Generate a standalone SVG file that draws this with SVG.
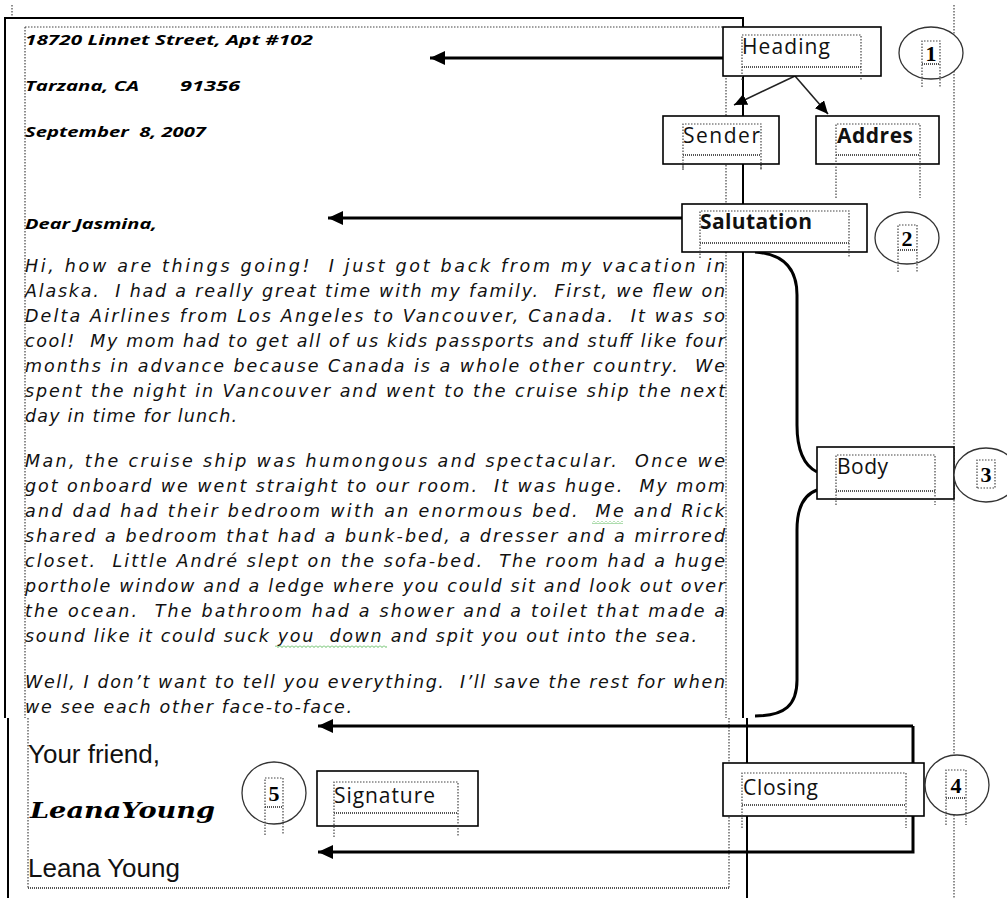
<svg xmlns="http://www.w3.org/2000/svg" width="1007" height="898" viewBox="0 0 1007 898">
<style>
.dot{fill:none;stroke:#444;stroke-width:1.2;stroke-dasharray:1.5 1.5}
.wavy{fill:none;stroke:#555;stroke-width:2;stroke-dasharray:1 1}
.edge{fill:none;stroke:#000;stroke-width:2}
.box{fill:#fff;stroke:#000;stroke-width:1.6}
.circ{fill:#fff;stroke:#333;stroke-width:1.3}
.lbl{font-family:"Open Sans","Liberation Sans",sans-serif;font-size:21px;fill:#111}
.lblb{font-family:"Open Sans","Liberation Sans",sans-serif;font-size:21px;font-weight:bold;fill:#111}
.num{font-family:"Liberation Serif","DejaVu Serif",serif;font-size:22px;font-weight:bold;fill:#000;text-anchor:middle}
.hd{font-family:"Open Sans","Liberation Sans",sans-serif;font-size:15px;font-weight:bold;font-style:italic;fill:#000;white-space:pre}
.bd{font-family:"DejaVu Sans","Liberation Sans",sans-serif;font-size:17.5px;font-style:italic;fill:#111;white-space:pre}
.cl{font-family:"Liberation Sans",Arial,sans-serif;font-size:25px;fill:#111}
.sig{font-family:"DejaVu Serif","Liberation Serif",serif;font-size:22px;font-weight:bold;font-style:italic;fill:#000}
.thick{fill:none;stroke:#000;stroke-width:3}
.thin{fill:none;stroke:#222;stroke-width:1.6}
</style>
<defs>
<marker id="ahBig" markerUnits="userSpaceOnUse" markerWidth="16" markerHeight="14" refX="15" refY="7" orient="auto">
<path d="M0,0 L15,7 L0,14 Z" fill="#000"/>
</marker>
<marker id="ahSmall" markerUnits="userSpaceOnUse" markerWidth="14" markerHeight="12" refX="13" refY="6" orient="auto">
<path d="M0,0 L13,6 L0,12 Z" fill="#000"/>
</marker>
<pattern id="squig" patternUnits="userSpaceOnUse" width="4" height="3">
<path d="M0,0.5 L2,2.5 L4,0.5" fill="none" stroke="#3a3" stroke-width="0.8"/>
</pattern>
</defs>

<g id="page">
<line class="dot" x1="12" y1="5" x2="12" y2="17"/>
<line class="dot" x1="954" y1="5" x2="954" y2="898"/>
<line class="dot" x1="25" y1="27" x2="723" y2="27"/>
<line class="dot" x1="25" y1="27" x2="25" y2="718"/>
<line class="dot" x1="726" y1="27" x2="726" y2="718"/>
<line class="dot" x1="28" y1="718" x2="28" y2="888"/>
<line class="dot" x1="729" y1="718" x2="729" y2="888"/>
<line class="wavy" x1="28" y1="888" x2="729" y2="888"/>
<path class="edge" d="M5,718 V18 H743 V718"/>
<line class="edge" x1="8" y1="718" x2="8" y2="898"/>
<line class="edge" x1="747" y1="718" x2="747" y2="898"/>
</g>

<g id="letter">
<text class="hd" x="25" y="45" textLength="288" lengthAdjust="spacingAndGlyphs">18720 Linnet Street, Apt #102</text>
<text class="hd" x="25" y="91" textLength="114" lengthAdjust="spacingAndGlyphs">Tarzana, CA</text>
<text class="hd" x="180" y="91" textLength="60" lengthAdjust="spacingAndGlyphs">91356</text>
<text class="hd" x="25" y="137" textLength="181" lengthAdjust="spacingAndGlyphs">September  8, 2007</text>
<text class="hd" x="25" y="229" textLength="132" lengthAdjust="spacingAndGlyphs">Dear Jasmina,</text>

<text class="bd" x="25" y="272" textLength="700" lengthAdjust="spacing">Hi, how are things going!  I just got back from my vacation in</text>
<text class="bd" x="25" y="297" textLength="700" lengthAdjust="spacing">Alaska.  I had a really great time with my family.  First, we flew on</text>
<text class="bd" x="25" y="322" textLength="700" lengthAdjust="spacing">Delta Airlines from Los Angeles to Vancouver, Canada.  It was so</text>
<text class="bd" x="25" y="347" textLength="700" lengthAdjust="spacing">cool!  My mom had to get all of us kids passports and stuff like four</text>
<text class="bd" x="25" y="372" textLength="700" lengthAdjust="spacing">months in advance because Canada is a whole other country.  We</text>
<text class="bd" x="25" y="397" textLength="700" lengthAdjust="spacing">spent the night in Vancouver and went to the cruise ship the next</text>
<text class="bd" x="25" y="422" textLength="212" lengthAdjust="spacing">day in time for lunch.</text>

<text class="bd" x="25" y="467" textLength="700" lengthAdjust="spacing">Man, the cruise ship was humongous and spectacular.  Once we</text>
<text class="bd" x="25" y="492" textLength="700" lengthAdjust="spacing">got onboard we went straight to our room.  It was huge.  My mom</text>
<text class="bd" x="25" y="517" textLength="700" lengthAdjust="spacing">and dad had their bedroom with an enormous bed.  Me and Rick</text>
<text class="bd" x="25" y="542" textLength="700" lengthAdjust="spacing">shared a bedroom that had a bunk-bed, a dresser and a mirrored</text>
<text class="bd" x="25" y="567" textLength="700" lengthAdjust="spacing">closet.  Little André slept on the sofa-bed.  The room had a huge</text>
<text class="bd" x="25" y="592" textLength="700" lengthAdjust="spacing">porthole window and a ledge where you could sit and look out over</text>
<text class="bd" x="25" y="617" textLength="700" lengthAdjust="spacing">the ocean.  The bathroom had a shower and a toilet that made a</text>
<text class="bd" x="25" y="642" textLength="672" lengthAdjust="spacing">sound like it could suck you  down and spit you out into the sea.</text>

<text class="bd" x="25" y="688" textLength="700" lengthAdjust="spacing">Well, I don’t want to tell you everything.  I’ll save the rest for when</text>
<text class="bd" x="25" y="713" textLength="327" lengthAdjust="spacing">we see each other face-to-face.</text>

<rect x="592" y="521" width="31" height="3" fill="url(#squig)"/>
<rect x="275" y="645" width="112" height="3" fill="url(#squig)"/>

<text class="cl" x="28" y="763" textLength="132" lengthAdjust="spacingAndGlyphs">Your friend,</text>
<text class="sig" x="30" y="818" textLength="185" lengthAdjust="spacingAndGlyphs">LeanaYoung</text>
<text class="cl" x="28" y="877" textLength="152" lengthAdjust="spacingAndGlyphs">Leana Young</text>
</g>

<g id="connectors">
<line class="thick" x1="723" y1="58" x2="430" y2="58" marker-end="url(#ahBig)"/>
<line class="thin" x1="795" y1="76" x2="734" y2="105" marker-end="url(#ahSmall)"/>
<line class="thin" x1="795" y1="76" x2="828" y2="114" marker-end="url(#ahSmall)"/>
<line class="thick" x1="682" y1="218" x2="328" y2="218" marker-end="url(#ahBig)"/>
<path class="thick" d="M755,252 C785,254 797,270 797,295 L797,425 C797,450 803,465 817,472"/>
<path class="thick" d="M817,490 C803,495 797,510 797,530 L797,680 C797,705 785,716 755,716"/>
<path class="thick" d="M913,726 H318" marker-end="url(#ahBig)"/>
<path class="thick" d="M913,726 V852 H318" marker-end="url(#ahBig)"/>
</g>

<g id="heading">
<rect class="box" x="723" y="27" width="158" height="49"/>
<path class="dot" d="M742,80 V35 H861 V80"/>
<line class="wavy" x1="742" y1="67" x2="861" y2="67"/>
<text class="lbl" x="742" y="54" textLength="88" lengthAdjust="spacing">Heading</text>
</g>
<g id="circle1">
<ellipse class="circ" cx="931" cy="53" rx="32" ry="26"/>
<path class="dot" d="M922,87 V41 H940 V87"/>
<line class="wavy" x1="922" y1="64" x2="940" y2="64"/>
<text class="num" x="931" y="61">1</text>
</g>
<g id="sender">
<line class="dot" x1="683" y1="155" x2="683" y2="170"/>
<line class="dot" x1="761" y1="155" x2="761" y2="170"/>
<rect class="box" x="663" y="116" width="116" height="48"/>
<path class="dot" d="M683,170 V124 H761 V170"/>
<line class="wavy" x1="683" y1="155" x2="761" y2="155"/>
<text class="lbl" x="683" y="143" textLength="77" lengthAdjust="spacing">Sender</text>
</g>
<g id="addres">
<rect class="box" x="816" y="116" width="123" height="48"/>
<path class="dot" d="M836,198 V124 H920 V198"/>
<line class="wavy" x1="836" y1="155" x2="920" y2="155"/>
<text class="lblb" x="837" y="143" textLength="76" lengthAdjust="spacing">Addres</text>
</g>
<g id="salutation">
<rect class="box" x="682" y="204" width="185" height="48"/>
<path class="dot" d="M700,258 V211 H849 V258"/>
<line class="wavy" x1="700" y1="243" x2="849" y2="243"/>
<text class="lblb" x="700" y="229" textLength="112" lengthAdjust="spacing">Salutation</text>
</g>
<g id="circle2">
<ellipse class="circ" cx="907" cy="238" rx="32" ry="26"/>
<path class="dot" d="M898,272 V225 H917 V272"/>
<line class="wavy" x1="898" y1="250" x2="917" y2="250"/>
<text class="num" x="907" y="246">2</text>
</g>
<g id="body">
<rect class="box" x="817" y="447" width="137" height="52"/>
<path class="dot" d="M836,505 V455 H935 V505"/>
<line class="wavy" x1="836" y1="491" x2="935" y2="491"/>
<text class="lbl" x="837" y="474" textLength="51" lengthAdjust="spacing">Body</text>
</g>
<g id="circle3">
<ellipse class="circ" cx="986" cy="475" rx="32" ry="27"/>
<path class="dot" d="M977,488 V460 H995 V488 Z"/>
<text class="num" x="986" y="482">3</text>
</g>
<g id="closing">
<rect class="box" x="723" y="763" width="201" height="53"/>
<path class="dot" d="M742,828 V773 H906 V828"/>
<line class="wavy" x1="742" y1="805" x2="906" y2="805"/>
<text class="lbl" x="743" y="795" textLength="75" lengthAdjust="spacing">Closing</text>
</g>
<g id="circle4">
<ellipse class="circ" cx="957" cy="785" rx="32" ry="30"/>
<path class="dot" d="M946,825 V770 H966 V825"/>
<line class="wavy" x1="946" y1="798" x2="966" y2="798"/>
<text class="num" x="956" y="793">4</text>
</g>
<g id="signature">
<rect class="box" x="317" y="771" width="161" height="55"/>
<path class="dot" d="M334,837 V782 H458 V837"/>
<line class="wavy" x1="334" y1="813" x2="458" y2="813"/>
<text class="lbl" x="334" y="803" textLength="101" lengthAdjust="spacing">Signature</text>
</g>
<g id="circle5">
<ellipse class="circ" cx="274" cy="793" rx="32" ry="31"/>
<path class="dot" d="M265,835 V778 H283 V835"/>
<line class="wavy" x1="265" y1="807" x2="283" y2="807"/>
<text class="num" x="274" y="801">5</text>
</g>
</svg>
